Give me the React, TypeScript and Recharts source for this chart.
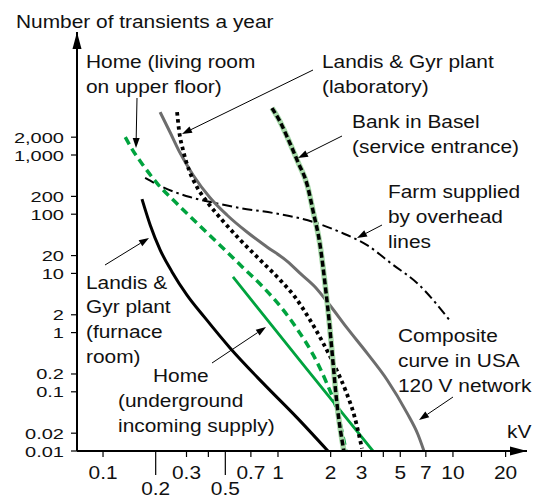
import React from 'react';
import { LineChart, Line, XAxis, YAxis } from 'recharts';

// axes
const xTicks = [0.1, 0.2, 0.3, 0.4, 0.5, 0.7, 1, 2, 3, 4, 5, 7, 10, 20];
const xTickLabels = ['0.1', '0.2', '0.3', '', '0.5', '0.7', '1', '2', '3', '', '5', '7', '10', '20'];
const xLongTicks = [0.2, 0.5];
const yTicks = [0.01, 0.02, 0.1, 0.2, 1, 2, 10, 20, 100, 200, 1000, 2000];
const yTickLabels = ['0.01', '0.02', '0.1', '0.2', '1', '2', '10', '20', '100', '200', '1,000', '2,000'];

// Landis & Gyr plant (furnace room)
const furnaceKv = [0.167, 0.186, 0.212, 0.248, 0.302, 0.383, 0.532, 0.821, 1.28, 1.93];
const furnaceN = [180, 66, 25, 10.6, 4.3, 1.77, 0.55, 0.14, 0.037, 0.01];

// Home (living room on upper floor)
const livingKv = [0.134, 0.148, 0.169, 0.206, 0.265, 0.349, 0.466, 0.623, 0.821, 1.05, 1.3, 1.59, 1.88, 2.17, 2.45];
const livingN = [2000, 1200, 680, 320, 150, 68, 30, 13, 5.9, 2.6, 1.1, 0.42, 0.15, 0.049, 0.01];

// Home (underground incoming supply)
const undergroundKv = [0.553, 1.39, 3.49];
const undergroundN = [8.7, 0.29, 0.01];

// Landis & Gyr plant (laboratory)
const labKv = [0.265, 0.272, 0.287, 0.31, 0.344, 0.398, 0.479, 0.607, 0.789, 1.03, 1.25, 1.5, 1.81, 2.14, 2.45, 2.72, 3.02];
const labN = [5300, 2600, 1200, 560, 290, 155, 80, 37, 17, 7.7, 4, 1.77, 0.67, 0.25, 0.1, 0.041, 0.011];

// Composite curve in USA 120 V network
const compositeKv = [0.212, 0.242, 0.275, 0.327, 0.409, 0.511, 0.665, 0.865, 1.13, 1.34, 1.63, 1.98, 2.48, 3.23, 4.2, 5.46, 6.31, 6.83];
const compositeN = [5300, 2400, 1100, 460, 190, 97, 50, 28, 16, 10, 5.9, 2.9, 1.2, 0.45, 0.16, 0.044, 0.019, 0.01];

// Bank in Basel (service entrance)
const bankKv = [0.924, 1.03, 1.13, 1.3, 1.47, 1.59, 1.74, 1.88, 1.96, 2.04, 2.17, 2.38];
const bankN = [6200, 3600, 2000, 760, 310, 110, 30, 4.9, 1.6, 0.45, 0.065, 0.01];

// Farm supplied by overhead lines
const farmKv = [0.174, 0.212, 0.314, 0.437, 0.607, 0.936, 1.59, 2.26, 3.23, 4.54, 6.23, 9.6];
const farmN = [410, 300, 195, 155, 127, 105, 74, 50, 30, 14, 6.9, 1.6];

const zip = (kv: number[], n: number[]) => kv.map((k, i) => ({ kv: k, n: n[i] }));

const FONT = "'Liberation Sans', Arial, Helvetica, sans-serif";
const FS = 17.7;
const SX = 1.18;
const GREEN = '#00a33e';

const Txt = ({ x, y, anchor = 'start', size = FS, sx = SX, children }: any) => (
  <text
    transform={`translate(${x} ${y}) scale(${sx} 1)`}
    textAnchor={anchor}
    fontFamily={FONT}
    fontSize={size}
    fill="#111"
  >
    {children}
  </text>
);

const Arrow = ({ x1, y1, x2, y2 }: any) => {
  const a = Math.atan2(y2 - y1, x2 - x1);
  const bx = x2 - 10 * Math.cos(a);
  const by = y2 - 10 * Math.sin(a);
  const px = -Math.sin(a) * 3.5;
  const py = Math.cos(a) * 3.5;
  return (
    <g>
      <line x1={x1} y1={y1} x2={bx} y2={by} stroke="#000" strokeWidth={1} />
      <polygon points={`${x2},${y2} ${bx + px},${by + py} ${bx - px},${by - py}`} fill="#000" />
    </g>
  );
};

const XTick = (props: any) => {
  const { x, y, payload } = props;
  const i = xTicks.indexOf(payload.value);
  const long = xLongTicks.includes(payload.value);
  const label = xTickLabels[i];
  return (
    <g>
      {long && <line x1={x} x2={x} y1={y} y2={y + 18} stroke="#000" strokeWidth={1.2} />}
      {label && <Txt x={x} y={y + (long ? 38 : 22)} anchor="middle">{label}</Txt>}
    </g>
  );
};

const YTick = (props: any) => {
  const { x, y, payload } = props;
  const label = yTickLabels[yTicks.indexOf(payload.value)];
  return <Txt x={x} y={y + 5.5} anchor="end" size={15.4} sx={1.3}>{label}</Txt>;
};

export default function App() {
  return (
    <div style={{ position: 'absolute', left: 0, top: 0, width: 547, height: 499, background: '#fff' }}>
      <LineChart width={547} height={499} margin={{ top: 32, right: 20, bottom: 0, left: 0 }}>
        <XAxis
          type="number"
          dataKey="kv"
          scale="log"
          domain={[0.071, 26.5]}
          allowDataOverflow
          ticks={xTicks}
          interval={0}
          height={48}
          tickSize={6}
          tickMargin={0}
          axisLine={{ stroke: '#000', strokeWidth: 2 }}
          tickLine={{ stroke: '#000', strokeWidth: 1.2 }}
          tick={(p: any) => <XTick {...p} />}
        />
        <YAxis
          type="number"
          scale="log"
          domain={[0.01, 119600]}
          allowDataOverflow
          ticks={yTicks}
          interval={0}
          width={77}
          tickSize={6}
          tickMargin={7}
          axisLine={{ stroke: '#000', strokeWidth: 2 }}
          tickLine={{ stroke: '#000', strokeWidth: 1.2 }}
          tick={(p: any) => <YTick {...p} />}
        />
        <Line data={zip(farmKv, farmN)} dataKey="n" type="monotone" stroke="#000" strokeWidth={2}
          strokeDasharray="10 4 2.5 4" dot={false} activeDot={false} isAnimationActive={false} />
        <Line data={zip(compositeKv, compositeN)} dataKey="n" type="monotone" stroke="#6d6d6d" strokeWidth={3}
          dot={false} activeDot={false} isAnimationActive={false} />
        <Line data={zip(furnaceKv, furnaceN)} dataKey="n" type="monotone" stroke="#000" strokeWidth={3}
          dot={false} activeDot={false} isAnimationActive={false} />
        <Line data={zip(livingKv, livingN)} dataKey="n" type="monotone" stroke={GREEN} strokeWidth={3.5}
          strokeDasharray="8 5" dot={false} activeDot={false} isAnimationActive={false} />
        <Line data={zip(undergroundKv, undergroundN)} dataKey="n" type="linear" stroke={GREEN} strokeWidth={2.8}
          dot={false} activeDot={false} isAnimationActive={false} />
        <Line data={zip(labKv, labN)} dataKey="n" type="monotone" stroke="#000" strokeWidth={3.8}
          strokeDasharray="3.5 3.5" dot={false} activeDot={false} isAnimationActive={false} />
        <Line data={zip(bankKv, bankN)} dataKey="n" type="monotone" stroke="#a6d9a8" strokeWidth={5.5}
          dot={false} activeDot={false} isAnimationActive={false} />
        <Line data={zip(bankKv, bankN)} dataKey="n" type="monotone" stroke="#000" strokeWidth={3.5}
          strokeDasharray="6 3" dot={false} activeDot={false} isAnimationActive={false} />
      </LineChart>
      <svg width={547} height={499} style={{ position: 'absolute', left: 0, top: 0, pointerEvents: 'none' }}>
        <polygon points="527,451 510,446.5 510,455.5" fill="#000" />
        <polygon points="77,32 72.5,49 81.5,49" fill="#000" />
        <Txt x={16} y={28}>Number of transients a year</Txt>
        <Txt x={507} y={438}>kV</Txt>

        <Txt x={86} y={68}>Home (living room</Txt>
        <Txt x={86} y={93}>on upper floor)</Txt>
        <Arrow x1={137} y1={98} x2={136} y2={148} />

        <Txt x={322} y={68}>Landis &amp; Gyr plant</Txt>
        <Txt x={322} y={93}>(laboratory)</Txt>
        <Arrow x1={313} y1={70} x2={182} y2={134} />

        <Txt x={352} y={128}>Bank in Basel</Txt>
        <Txt x={352} y={153}>(service entrance)</Txt>
        <Arrow x1={342} y1={136} x2={298} y2={158} />

        <Txt x={388} y={198}>Farm supplied</Txt>
        <Txt x={388} y={223}>by overhead</Txt>
        <Txt x={388} y={248}>lines</Txt>
        <Arrow x1={382} y1={225} x2={357} y2={238} />

        <Txt x={398} y={342}>Composite</Txt>
        <Txt x={398} y={367}>curve in USA</Txt>
        <Txt x={398} y={392}>120 V network</Txt>
        <Arrow x1={453} y1={397} x2={419} y2={420} />

        <Txt x={86} y={289}>Landis &amp;</Txt>
        <Txt x={86} y={313}>Gyr plant</Txt>
        <Txt x={86} y={338}>(furnace</Txt>
        <Txt x={86} y={363}>room)</Txt>
        <Arrow x1={105} y1={265} x2={149} y2={238} />

        <Txt x={153} y={382}>Home</Txt>
        <Txt x={118} y={407}>(underground</Txt>
        <Txt x={118} y={432}>incoming supply)</Txt>
        <Arrow x1={212} y1={363} x2={266} y2={327} />
      </svg>
    </div>
  );
}
